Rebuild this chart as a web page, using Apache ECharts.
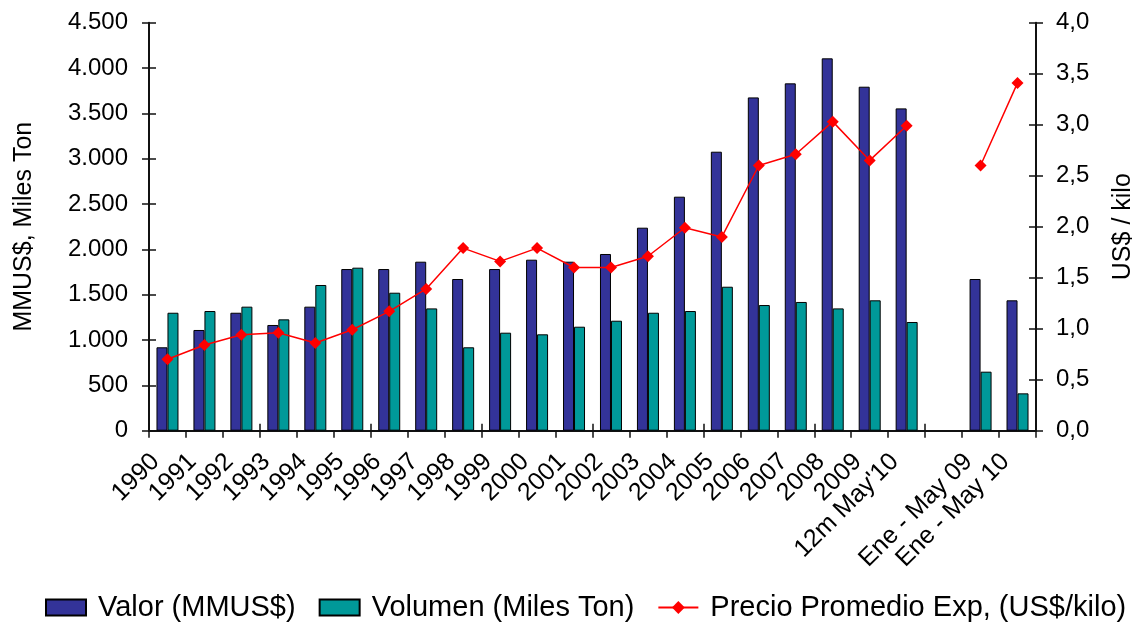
<!DOCTYPE html>
<html>
<head>
<meta charset="utf-8">
<script src="https://cdn.jsdelivr.net/npm/echarts@6/dist/echarts.min.js"></script>
<style>html,body{margin:0;padding:0;background:#fff;}#chart{width:1139px;height:624px;}</style>
</head>
<body>
<div id="chart"></div>
<script>
const categories = ['1990','1991','1992','1993','1994','1995','1996','1997','1998','1999','2000','2001','2002','2003','2004','2005','2006','2007','2008','2009',"12m May'10",'','Ene - May 09','Ene - May 10'];
const valor = [920,1111,1301,1166,1368,1783,1783,1864,1673,1783,1886,1864,1949,2239,2581,3077,3676,3831,4107,3794,3555,'-',1673,1438];
const volumen = [1301,1320,1368,1228,1607,1798,1522,1349,920,1081,1063,1147,1213,1301,1320,1588,1386,1420,1349,1438,1199,'-',651,412];
const precio = [0.70,0.84,0.94,0.96,0.86,0.99,1.17,1.39,1.79,1.66,1.79,1.60,1.60,1.71,1.99,1.90,2.60,2.71,3.03,2.65,2.99,'-',2.60,3.41];
const seriesNames = ['Valor (MMUS$)','Volumen (Miles Ton)','Precio Promedio Exp, (US$/kilo)'];
const leftAxisName = 'MMUS$, Miles Ton';
const rightAxisName = 'US$ / kilo';

const FONT = '"Liberation Sans", Arial, sans-serif';
const chart = echarts.init(document.getElementById('chart'), null, {renderer:'canvas'});
const fmtLeft = v => String(v).replace(/\B(?=(\d{3})+(?!\d))/g, '.');
const fmtRight = v => v.toFixed(1).replace('.', ',');
const axisLineStyle = {color:'#111', width:2};

chart.setOption({
  backgroundColor:'#fff',
  animation:false,
  textStyle:{fontFamily:FONT, color:'#000'},
  grid:{left:149, right:103, top:22.7, bottom:193.3, containLabel:false, outerBoundsMode:'none'},
  legend:{
    left:45, top:593, padding:0,
    itemWidth:40, itemHeight:16, itemGap:23,
    textStyle:{fontFamily:FONT, fontSize:29, color:'#000', padding:[0,0,0,7]},
    data:[{name:seriesNames[0], icon:'rect'},{name:seriesNames[1], icon:'rect'},{name:seriesNames[2]}]
  },
  xAxis:[{
    type:'category', data:categories, position:'bottom',
    axisLine:{show:true, lineStyle:axisLineStyle},
    axisTick:{show:true, length:7, lineStyle:{color:'#111', width:1.5}},
    axisLabel:{interval:0, rotate:45, fontSize:25, color:'#000', fontFamily:FONT, margin:15, padding:[0,17,0,0]},
    splitLine:{show:false}
  },{
    type:'category', data:categories, position:'bottom',
    axisLine:{show:false},
    axisTick:{show:true, inside:true, length:7, lineStyle:{color:'#111', width:1.5}},
    axisLabel:{show:false}, splitLine:{show:false}
  }],
  yAxis:[{
    type:'value', min:0, max:4500, interval:500, position:'left',
    name:leftAxisName, nameLocation:'middle', nameGap:112, nameRotate:90,
    nameTextStyle:{fontSize:25, color:'#000', fontFamily:FONT},
    axisLine:{show:true, lineStyle:axisLineStyle},
    axisTick:{show:true, length:7, lineStyle:{color:'#111', width:1.5}},
    axisLabel:{fontSize:24, color:'#000', fontFamily:FONT, margin:21, formatter:fmtLeft},
    splitLine:{show:false}
  },{
    type:'value', min:0, max:4, interval:0.5, position:'right',
    name:rightAxisName, nameLocation:'middle', nameGap:75, nameRotate:90,
    nameTextStyle:{fontSize:25, color:'#000', fontFamily:FONT},
    axisLine:{show:true, lineStyle:axisLineStyle},
    axisTick:{show:true, length:7, lineStyle:{color:'#111', width:1.5}},
    axisLabel:{fontSize:24, color:'#000', fontFamily:FONT, margin:20, formatter:fmtRight},
    splitLine:{show:false}
  },{
    type:'value', min:0, max:4500, interval:500, position:'left',
    axisLine:{show:false},
    axisTick:{show:true, inside:true, length:7, lineStyle:{color:'#111', width:1.5}},
    axisLabel:{show:false}, splitLine:{show:false}
  },{
    type:'value', min:0, max:4, interval:0.5, position:'right',
    axisLine:{show:false},
    axisTick:{show:true, inside:true, length:7, lineStyle:{color:'#111', width:1.5}},
    axisLabel:{show:false}, splitLine:{show:false}
  }],
  series:[{
    name:seriesNames[0], type:'bar', xAxisIndex:0, yAxisIndex:0, data:valor,
    barWidth:11, barGap:'0%',
    itemStyle:{color:'#333399', borderColor:'#000', borderWidth:1}
  },{
    name:seriesNames[1], type:'bar', xAxisIndex:0, yAxisIndex:0, data:volumen,
    barWidth:11, barGap:'0%',
    itemStyle:{color:'#009999', borderColor:'#000', borderWidth:1}
  },{
    name:seriesNames[2], type:'line', xAxisIndex:0, yAxisIndex:1, data:precio,
    connectNulls:false, symbol:'diamond', symbolSize:12,
    lineStyle:{color:'#ff0000', width:1.5},
    itemStyle:{color:'#ff0000'}
  }]
});
</script>
</body>
</html>
